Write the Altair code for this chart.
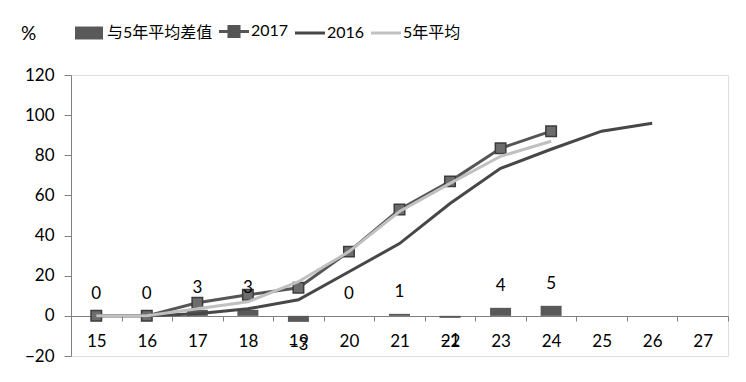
import altair as alt
import pandas as pd

weeks = [15, 16, 17, 18, 19, 20, 21, 22, 23, 24, 25, 26, 27]
diff_weeks = [15, 16, 17, 18, 19, 20, 21, 22, 23, 24]
diff_vals = [0, 0, 3, 3, -3, 0, 1, -1, 4, 5]
y2017_weeks = [15, 16, 17, 18, 19, 20, 21, 22, 23, 24]
y2017 = [0, 0, 6.5, 10.5, 14, 32, 53, 67, 83.5, 92]
y2016_weeks = [15, 16, 17, 18, 19, 20, 21, 22, 23, 24, 25, 26]
y2016 = [0, 0, 1, 3.5, 8, 22, 36, 56, 73.5, 83, 92, 96]
avg_weeks = [15, 16, 17, 18, 19, 20, 21, 22, 23, 24]
avg5 = [0, 0, 3.5, 7, 17, 32, 52, 66, 79.5, 87]
series = ["与5年平均差值", "2017", "2016", "5年平均"]
colors = ["#595959", "#555555", "#474747", "#c0c0c0"]

FONT = "Lato, 'Noto Sans CJK SC', sans-serif"

diff_df = pd.DataFrame({"week": diff_weeks, "value": diff_vals, "series": series[0]})
d2017 = pd.DataFrame({"week": y2017_weeks, "value": y2017, "series": series[1]})
d2016 = pd.DataFrame({"week": y2016_weeks, "value": y2016, "series": series[2]})
davg = pd.DataFrame({"week": avg_weeks, "value": avg5, "series": series[3]})

xenc = alt.X(
    "week:O",
    scale=alt.Scale(domain=weeks, paddingInner=0, paddingOuter=0),
    axis=alt.Axis(
        title=None, labelAngle=0, offset=-40, tickBand="extent",
        labelFontSize=17, labelFont=FONT, labelColor="#000000",
        domainColor="#808080", tickColor="#808080", tickSize=5,
        labelPadding=12, domainWidth=1,
    ),
)
yscale = alt.Scale(domain=[-20, 120], nice=False, zero=False)
yaxis = alt.Axis(
    values=[-20, 0, 20, 40, 60, 80, 100, 120], grid=False,
    labelFontSize=17, labelFont=FONT, labelColor="#000000",
    domainColor="#808080", tickColor="#808080", tickSize=7, labelPadding=10,
    title="%", titleAngle=0, titleX=-43, titleY=-42, titleAlign="center",
    titleBaseline="middle", titleFont=FONT, titleFontSize=19, titleFontWeight="normal",
    titleColor="#000000",
)

shape_expr = (
    "datum.value === '与5年平均差值' ? 'M-1,-0.36H0.556V0.36H-1Z' : "
    "datum.value === '2017' ? 'M-1,0H0.667M-0.447,-0.28H0.113V0.28H-0.447Z' : 'M-1,0H0.667'"
)
legend = alt.Legend(
    orient="none", legendX=14, legendY=-52, direction="horizontal", title=None,
    symbolSize=1296, labelFontSize=16, labelFont=FONT, labelColor="#000000",
    labelLimit=400, columnPadding=0, labelOffset=6, padding=0,
    symbolType={"expr": shape_expr},
    symbolStrokeWidth={"expr": "datum.value === '与5年平均差值' ? 0 : 3"},
    symbolFillColor={"expr": "datum.value === '2017' ? '#6d6d6d' : datum.value === '与5年平均差值' ? '#595959' : 'transparent'"},
    symbolStrokeColor={"expr": "datum.value === '5年平均' ? '#c0c0c0' : '#4a4a4a'"},
    symbolOpacity=1,
)
cenc = alt.Color("series:N", scale=alt.Scale(domain=series, range=colors), legend=legend)

bars = alt.Chart(diff_df).mark_bar(size=21).encode(
    x=xenc, y=alt.Y("value:Q", scale=yscale, axis=yaxis), color=cenc
)
line17 = alt.Chart(d2017).mark_line(strokeWidth=3).encode(x=xenc, y="value:Q", color=cenc)
pts17 = alt.Chart(d2017).mark_square(
    size=110, fill="#6d6d6d", stroke="#3c3c3c", strokeWidth=1.5, opacity=1, filled=True
).encode(x=xenc, y="value:Q")
line16 = alt.Chart(d2016).mark_line(strokeWidth=3).encode(x=xenc, y="value:Q", color=cenc)
lineavg = alt.Chart(davg).mark_line(strokeWidth=3).encode(x=xenc, y="value:Q", color=cenc)

pos_txt = alt.Chart(diff_df).transform_filter("datum.value >= 0").mark_text(
    dy=-22, fontSize=17, font=FONT, color="#000000", baseline="middle"
).encode(x=xenc, y="value:Q", text=alt.Text("value:Q", format="d"))
neg_txt = alt.Chart(diff_df).transform_filter("datum.value < 0").mark_text(
    dy=23, fontSize=17, font=FONT, color="#000000", baseline="middle"
).encode(x=xenc, y="value:Q", text=alt.Text("value:Q", format="d"))

chart = alt.layer(bars, line17, pts17, line16, lineavg, pos_txt, neg_txt).properties(
    width=657, height=281, autosize="none",
    padding={"left": 63, "top": 67, "right": 10, "bottom": 18},
).configure_view(stroke=None).configure(background="white")

chart.save("out.html", embed_options={"renderer": "svg", "actions": False})
